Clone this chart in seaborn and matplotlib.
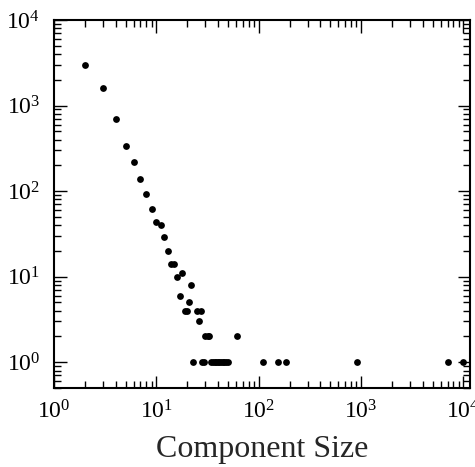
"""
연결 요소 크기 분포 (log-log 산점도)
"""

import numpy as np
import pandas as pd
import matplotlib
matplotlib.use("Agg")
import matplotlib.pyplot as plt
import matplotlib.ticker as mticker
import seaborn as sns

# 컴포넌트 크기 / 개수
component_size = [2, 3, 4, 5, 6, 7, 8, 9, 10, 11, 12, 13, 14, 15, 16, 17, 18,
                  19, 20, 21, 22, 23, 25, 26, 27,
                  28, 29, 30, 32, 33, 34, 36, 37, 38, 40, 41, 43, 45, 46, 48, 50,
                  61, 111, 156, 185, 910, 7100, 9800]
component_count = [2950, 1590, 690, 337, 217, 138, 92, 62, 43, 40, 29, 20, 14, 14, 10, 6, 11,
                   4, 4, 5, 8, 1, 4, 3, 4,
                   1, 1, 2, 2, 2, 1, 1, 1, 1, 1, 1, 1, 1, 1, 1, 1,
                   2, 1, 1, 1, 1, 1, 1]

df = pd.DataFrame({"size": component_size, "count": component_count})

sns.set_style("ticks")
plt.rcParams["font.family"] = ["Liberation Serif", "DejaVu Serif"]
plt.rcParams["mathtext.fontset"] = "stix"

fig = plt.figure(figsize=(4.75, 4.67), dpi=100)
ax = fig.add_axes([54 / 475, 1 - 388 / 467, 416 / 475, 368 / 467])

sns.scatterplot(data=df, x="size", y="count", ax=ax, color="black",
                s=24, linewidth=0, legend=False)

ax.set_xscale("log")
ax.set_yscale("log")
ax.set_xlim(1, 1.16e4)
ax.set_ylim(0.5, 1e4)

ax.xaxis.set_major_locator(mticker.LogLocator(base=10, numticks=10))
ax.yaxis.set_major_locator(mticker.LogLocator(base=10, numticks=10))
ax.xaxis.set_minor_locator(mticker.LogLocator(base=10, subs=np.arange(2, 10), numticks=20))
ax.yaxis.set_minor_locator(mticker.LogLocator(base=10, subs=np.arange(2, 10), numticks=20))
ax.xaxis.set_minor_formatter(mticker.NullFormatter())
ax.yaxis.set_minor_formatter(mticker.NullFormatter())

ax.tick_params(which="both", direction="in", top=True, right=True, colors="black",
               labelsize=17, width=1)
ax.tick_params(which="major", length=9)
ax.tick_params(which="minor", length=5)
ax.tick_params(axis="x", which="major", pad=9)
ax.tick_params(axis="y", which="major", pad=10)
for sp in ax.spines.values():
    sp.set_linewidth(1.5)
    sp.set_color("black")

ax.set_xlabel("Component Size", fontsize=23, labelpad=8)
ax.set_ylabel("")

fig.savefig("out.png", dpi=100, facecolor="white")
